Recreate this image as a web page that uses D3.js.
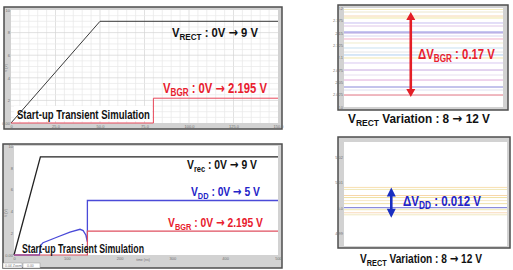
<!DOCTYPE html>
<html>
<head>
<meta charset="utf-8">
<script src="https://cdn.jsdelivr.net/npm/d3@7"></script>
<style>
  body { margin: 0; background: #fff; }
  svg { display: block; font-family: "Liberation Sans", Arial, sans-serif; }
  .tick text { fill: #707070; font-size: 4px; }
</style>
</head>
<body>
<script>
var w = 513;
var h = 270;

// top-left : start-up transient (time in ns, volts)
var tlRectTime = [0, 50, 150];
var tlRect = [0, 9, 9];
var tlBgrTime = [0, 80, 80, 150];
var tlBgr = [0, 0, 2.195, 2.195];
var tlXTicks = [0, 25, 50, 75, 100, 125, 150];
var tlXLabels = ["0", "25.0", "50.0", "75.0", "100.0", "125.0", "150.0"];
var yTicks = [0, 2, 4, 6, 8, 10];
var yLabels = ["0.00", "2", "4", "6", "8", "10"];

// top-right : VBGR level for each VRECT sweep
var trLevels = [2.197, 2.1919, 2.1838, 2.1798, 2.1697, 2.1636, 2.1515, 2.1495, 2.1434, 2.1374, 2.1293,
                2.1192, 2.1111, 2.1051, 2.0990, 2.0889, 2.0747, 2.0646, 2.0545, 2.0404, 2.0343, 2.0242];
var trColors = ["#f4ecc0", "#ece6cc", "#f6d6b0", "#efe6a4", "#c6bef0", "#e0c8e8", "#8e8ee0", "#b0a0e0",
                "#d8d8f0", "#f0b0c8", "#f0eccc", "#c8e0f0", "#e6e6e6", "#b0d0f0", "#f0e6b0", "#d8c8f0",
                "#c8a8e0", "#e8e0f0", "#e0a8d8", "#8888d8", "#e0e0f0", "#e07282"];
var trYTicks = [2.0, 2.025, 2.05, 2.075, 2.1, 2.125, 2.15, 2.175, 2.2];
var trYLabels = ["2.0", "2.025", "2.05", "2.075", "2.1", "2.125", "2.15", "2.175", "2.2"];
var trArrow = [2.192, 2.020];

// bottom-left : start-up transient with VDD
var blRecTime = [0, 50, 500];
var blRec = [0, 9, 9];
var blVddTime = [0, 48, 49, 50, 55, 81, 106, 125, 131, 136, 138, 139, 139, 500];
var blVdd = [0, 0, 0.3, 0.85, 1.13, 1.63, 2.09, 2.36, 2.24, 1.84, 1.38, 1.2, 5, 5];
var blBgrTime = [0, 139, 139, 500];
var blBgr = [0, 0, 2.195, 2.195];
var blXTicks = [0, 100, 200, 300, 400, 500];

// bottom-right : VDD level for each VRECT sweep
var brLevels = [5.0081, 5.0073, 5.0049, 5.0041, 5.0029, 5.0017, 5.0001, 4.9993, 4.9981, 4.9973];
var brColors = ["#f8dfb0", "#f0e8b8", "#f8d6a8", "#efe0a0", "#f8e8c8", "#f0e0a8", "#7272d2", "#f0e8b0", "#f8d8b8", "#f0e8c0"];
var brYTicks = [4.99, 5.0, 5.01, 5.02];
var brYLabels = ["4.99", "5.0", "5.01", "5.02"];
var brArrow = [5.0081, 4.9961];

var svg = d3.select("body")
            .append("svg")
            .attr("width", w)
            .attr("height", h);

function frame(box, plot) {
  svg.append("rect")
     .attr("x", box[0]).attr("y", box[1])
     .attr("width", box[2] - box[0]).attr("height", box[3] - box[1])
     .attr("fill", "#d2d2d2")
     .attr("stroke", "#4e4e4e")
     .attr("stroke-width", 1.5);
  svg.append("rect")
     .attr("x", plot[0]).attr("y", plot[1])
     .attr("width", plot[2] - plot[0]).attr("height", plot[3] - plot[1])
     .attr("fill", "#fff");
}

function axes(xScale, yScale, xv, xl, yv, yl, plot) {
  var g = svg.append("g");
  g.append("g")
   .attr("transform", "translate(0," + plot[3] + ")")
   .call(d3.axisBottom(xScale).tickValues(xv).tickSize(0).tickPadding(2)
           .tickFormat(function(d, i) { return xl ? xl[i] : ""; }))
   .call(function(a) { a.select(".domain").remove(); });
  g.append("g")
   .attr("transform", "translate(" + plot[0] + ",0)")
   .call(d3.axisLeft(yScale).tickValues(yv).tickSize(0).tickPadding(1)
           .tickFormat(function(d, i) { return yl[i]; }))
   .call(function(a) { a.select(".domain").remove(); });
}

function drawLine(xs, ys, xScale, yScale, color, width) {
  var line = d3.line()
               .x(function(d) { return xScale(d[0]); })
               .y(function(d) { return yScale(d[1]); });
  svg.append("path")
     .datum(d3.zip(xs, ys))
     .attr("d", line)
     .attr("fill", "none")
     .attr("stroke", color)
     .attr("stroke-width", width);
}

// parts: [text, isSubscript]; text is squeezed horizontally to the given width
function label(x, y, parts, size, color, len) {
  var t = svg.append("text")
             .attr("font-size", size)
             .attr("font-weight", "bold")
             .attr("fill", color);
  var shift = 0;
  parts.forEach(function(p) {
    if (p[1]) {
      t.append("tspan").text(p[0]).attr("font-size", size * 0.72).attr("dy", 3 - shift);
      shift = 3;
      return;
    }
    p[0].split("\u2192").forEach(function(s, i) {
      if (i > 0) {
        t.append("tspan").text("\u2192").attr("font-family", "DejaVu Sans").attr("dy", -shift);
        shift = 0;
      }
      t.append("tspan").text(s).attr("dy", -shift);
      shift = 0;
    });
  });
  var natural = t.node().getComputedTextLength();
  t.attr("transform", "translate(" + x + "," + y + ") scale(" + (len / natural) + ",1)");
}

function arrow(x, y1, y2, color, hw, hh) {
  svg.append("line")
     .attr("x1", x).attr("x2", x)
     .attr("y1", y1 + hh - 1).attr("y2", y2 - hh + 1)
     .attr("stroke", color).attr("stroke-width", 2.6);
  svg.append("path")
     .attr("d", "M" + x + "," + y1 + "L" + (x - hw) + "," + (y1 + hh) + "L" + (x + hw) + "," + (y1 + hh) + "Z" +
                "M" + x + "," + y2 + "L" + (x - hw) + "," + (y2 - hh) + "L" + (x + hw) + "," + (y2 - hh) + "Z")
     .attr("fill", color);
}

// ---------- top-left ----------
var tlPlot = [11, 10, 278, 123];
frame([4, 7, 282, 129], tlPlot);
var tlX = d3.scaleLinear().domain([0, 150]).range([tlPlot[0], tlPlot[2]]);
var tlY = d3.scaleLinear().domain([0, 10]).range([tlPlot[3], tlPlot[1]]);

svg.append("g").selectAll("line")
   .data(d3.range(5, 150, 5))
   .enter().append("line")
   .attr("x1", function(d) { return tlX(d); })
   .attr("x2", function(d) { return tlX(d); })
   .attr("y1", tlPlot[1]).attr("y2", tlPlot[3])
   .attr("stroke", function(d) { return d % 25 == 0 ? "#d4d4d4" : "#e8e8e8"; })
   .attr("stroke-width", 0.7);
svg.append("g").selectAll("line")
   .data(d3.range(0.5, 10, 0.5))
   .enter().append("line")
   .attr("y1", function(d) { return tlY(d); })
   .attr("y2", function(d) { return tlY(d); })
   .attr("x1", tlPlot[0]).attr("x2", tlPlot[2])
   .attr("stroke", function(d) { return d % 2 == 0 ? "#d4d4d4" : "#e8e8e8"; })
   .attr("stroke-width", 0.7);

axes(tlX, tlY, tlXTicks, tlXLabels, yTicks, yLabels, tlPlot);
svg.append("text").attr("transform", "translate(7,68) rotate(-90)")
   .attr("font-size", 3.5).attr("fill", "#707070").attr("text-anchor", "middle").text("V (V)");

svg.append("rect").attr("x", 14).attr("y", 106).attr("width", 138).attr("height", 15).attr("fill", "#fff");
drawLine(tlRectTime, tlRect, tlX, tlY, "#3a3a3a", 1);
drawLine(tlBgrTime, tlBgr, tlX, tlY, "#e8485a", 1);

label(172, 37, [["V"], ["RECT", 1], [" : 0V \u2192 9 V"]], 13.5, "#111", 86);
label(163, 93, [["V"], ["BGR", 1], [" : 0V \u2192 2.195 V"]], 14, "#e8202e", 104);
label(17, 119, [["Start-up Transient Simulation"]], 12.5, "#111", 133);

// ---------- top-right ----------
var trPlot = [344, 8, 503, 107];
frame([338, 5, 508, 110], trPlot);
var trX = d3.scaleLinear().domain([0, 1]).range([trPlot[0], trPlot[2]]);
var trY = d3.scaleLinear().domain([2.0, 2.2]).range([trPlot[3], trPlot[1]]);

svg.append("g").selectAll("line")
   .data(trLevels)
   .enter().append("line")
   .attr("x1", trPlot[0]).attr("x2", trPlot[2])
   .attr("y1", function(d) { return trY(d); })
   .attr("y2", function(d) { return trY(d); })
   .attr("stroke", function(d, i) { return trColors[i]; })
   .attr("stroke-width", 1);
axes(trX, trY, [0.2, 0.4, 0.6, 0.8], null, trYTicks, trYLabels, trPlot);

arrow(trX(0.42), trY(trArrow[0]), trY(trArrow[1]), "#e41e26", 4.5, 8);
label(418, 59, [["\u0394V"], ["BGR", 1], [" : 0.17 V"]], 14, "#e8202e", 77);
label(348, 123, [["V"], ["RECT", 1], [" Variation : 8 \u2192 12 V"]], 13, "#111", 142);

// ---------- bottom-left ----------
var blPlot = [14, 146, 278, 255];
frame([3, 144, 282, 268], blPlot);
var blX = d3.scaleLinear().domain([0, 500]).range([blPlot[0], blPlot[2]]);
var blY = d3.scaleLinear().domain([0, 10]).range([blPlot[3], blPlot[1]]);
axes(blX, blY, blXTicks, blXTicks.map(String), yTicks, yLabels, blPlot);
svg.append("text").attr("transform", "translate(7,213) rotate(-90)")
   .attr("font-size", 3.5).attr("fill", "#707070").attr("text-anchor", "middle").text("V (V)");
svg.append("text").attr("x", 143).attr("y", 261)
   .attr("font-size", 3.5).attr("fill", "#707070").attr("text-anchor", "middle").text("time (ns)");
svg.append("rect").attr("x", 3).attr("y", 263).attr("width", 19).attr("height", 5)
   .attr("fill", "#fff").attr("stroke", "#999").attr("stroke-width", 0.5);
svg.append("rect").attr("x", 23).attr("y", 263).attr("width", 17).attr("height", 5)
   .attr("fill", "#fff").attr("stroke", "#999").attr("stroke-width", 0.5);
svg.append("text").attr("x", 5).attr("y", 267).attr("font-size", 3.5).attr("fill", "#777").text("0.04 Zoom");
svg.append("text").attr("x", 27).attr("y", 267).attr("font-size", 3.5).attr("fill", "#777").text("0.00");

drawLine(blRecTime, blRec, blX, blY, "#222", 1.3);
drawLine(blVddTime, blVdd, blX, blY, "#4a4ad8", 1.3);
drawLine(blBgrTime, blBgr, blX, blY, "#e05060", 1.2);

label(187, 169, [["V"], ["rec", 1], [" : 0V \u2192 9 V"]], 13, "#111", 70);
label(191, 196, [["V"], ["DD", 1], [" : 0V \u2192 5 V"]], 13, "#2323c8", 69);
label(168, 227, [["V"], ["BGR", 1], [" : 0V \u2192 2.195 V"]], 13.5, "#e8202e", 95);
label(22, 252.5, [["Start-up Transient Simulation"]], 12, "#111", 122);

// ---------- bottom-right ----------
var brPlot = [344, 142, 507, 246];
frame([338, 137, 510, 248], brPlot);
var brX = d3.scaleLinear().domain([0, 1]).range([brPlot[0], brPlot[2]]);
var brY = d3.scaleLinear().domain([4.985, 5.026]).range([brPlot[3], brPlot[1]]);

svg.append("g").selectAll("line")
   .data(brLevels)
   .enter().append("line")
   .attr("x1", brPlot[0]).attr("x2", brPlot[2])
   .attr("y1", function(d) { return brY(d); })
   .attr("y2", function(d) { return brY(d); })
   .attr("stroke", function(d, i) { return brColors[i]; })
   .attr("stroke-width", 1);
axes(brX, brY, [0.2, 0.4, 0.6, 0.8], null, brYTicks, brYLabels, brPlot);

arrow(brX(0.29), brY(brArrow[0]), brY(brArrow[1]), "#1a2fc0", 4.5, 9);
label(403, 206, [["\u0394V"], ["DD", 1], [" : 0.012 V"]], 14, "#2323c8", 78);
label(360, 263, [["V"], ["RECT", 1], [" Variation : 8 \u2192 12 V"]], 13, "#111", 122);
</script>
</body>
</html>
